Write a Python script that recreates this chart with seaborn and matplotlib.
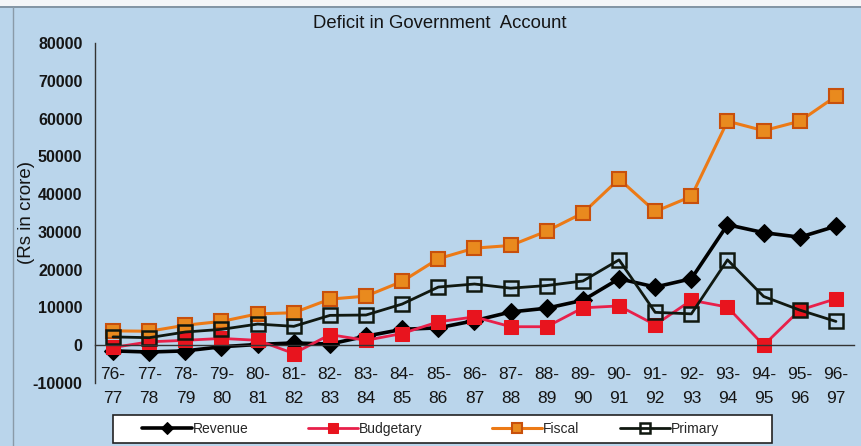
import matplotlib
matplotlib.use("Agg")
import matplotlib.pyplot as plt
import seaborn as sns
import numpy as np
import pandas as pd
from matplotlib.ticker import FixedLocator
from matplotlib.patches import Rectangle
from matplotlib.lines import Line2D

years = ["76-\n77", "77-\n78", "78-\n79", "79-\n80", "80-\n81", "81-\n82", "82-\n83",
         "83-\n84", "84-\n85", "85-\n86", "86-\n87", "87-\n88", "88-\n89", "89-\n90",
         "90-\n91", "91-\n92", "92-\n93", "93-\n94", "94-\n95", "95-\n96", "96-\n97"]

revenue = [-1500, -1800, -1500, -400, 200, 600, 300, 2400, 4200, 4600, 6500,
           8800, 9800, 11900, 17600, 15400, 17600, 31900, 29800, 28600, 31500]
budgetary = [-600, 900, 1300, 1800, 1300, -2200, 2800, 1300, 3100, 6200, 7500,
             4900, 4900, 9900, 10400, 5400, 11900, 10100, 0, 9300, 12300]
fiscal = [3800, 3700, 5300, 6300, 8300, 8600, 12200, 13000, 16900, 22900, 25700,
          26400, 30200, 35000, 44000, 35400, 39400, 59300, 56800, 59300, 65900]
primary = [2200, 2000, 3500, 4200, 5600, 5000, 7900, 8000, 10900, 15400, 16200,
           15100, 15800, 17000, 22600, 8700, 8300, 22600, 12900, 9300, 6300]

series_names = ["Revenue", "Budgetary", "Fiscal", "Primary"]
series_values = [revenue, budgetary, fiscal, primary]

sns.set_style("white")
plt.rcParams['font.family'] = ['Liberation Sans', 'DejaVu Sans']

bg = '#bad5eb'
W, H = 862, 446
fig = plt.figure(figsize=(W/100, H/100), dpi=100, facecolor=bg)
ax = fig.add_axes([95/W, 1-383/H, (854-95)/W, (383-43)/H])
ax.set_facecolor(bg)

idx = np.arange(len(years))
styles = {
    "Revenue": dict(color='black', marker='D', markersize=9, markerfacecolor='black',
                    markeredgecolor='black', linewidth=2.6),
    "Budgetary": dict(color='#e8204a', marker='s', markersize=10, markerfacecolor='#e8141e',
                      markeredgecolor='#e8141e', linewidth=2.0),
    "Fiscal": dict(color='#ec7a16', marker='s', markersize=10, markerfacecolor='#e98a1e',
                   markeredgecolor='#c8500c', markeredgewidth=1.5, linewidth=2.2),
    "Primary": dict(color='#101810', marker='s', markersize=10, markerfacecolor='none',
                    markeredgecolor='#101810', markeredgewidth=1.8, linewidth=2.0),
}

for name, vals in zip(series_names, series_values):
    df = pd.DataFrame({"x": idx, "y": vals})
    sns.lineplot(data=df, x="x", y="y", ax=ax, sort=False, label=name, **styles[name])

ax.set_xlim(-0.5, len(years) - 0.5)
ax.set_ylim(-10000, 80000)
ax.set_yticks(np.arange(-10000, 80001, 10000))
ax.set_yticklabels([str(v) for v in range(-10000, 80001, 10000)])
ax.set_xticks(idx)
ax.set_xticklabels([""] * len(years))
ax.xaxis.set_minor_locator(FixedLocator(np.arange(-0.5, len(years), 1)))
ax.tick_params(axis='x', which='major', length=0)
ax.tick_params(axis='x', which='minor', length=5, width=1, color='#333333', direction='out')
ax.tick_params(axis='y', which='major', length=5, width=1, color='#333333', direction='out',
               pad=4, labelsize=11.5, labelcolor='#151515')

# category labels (two-line), placed at each category index
xt = ax.get_xaxis_transform()
for i, lab in zip(idx, years):
    ax.text(i, 0.047, lab, transform=xt, ha='center', va='top', fontsize=12.5,
            linespacing=1.72, color='#151515')

ax.spines['bottom'].set_position(('data', 0))
for s in ['top', 'right']:
    ax.spines[s].set_visible(False)
for s in ['left', 'bottom']:
    ax.spines[s].set_color('#333333')
    ax.spines[s].set_linewidth(1.0)

ax.set_xlabel("")
ax.set_ylabel("")
fig.text(27/W, 1-212/H, "(Rs in crore)", rotation=90, ha='center', va='center',
         fontsize=13.5, color='#151515')
fig.text(440/W, 1-23/H, "Deficit in Government  Account", ha='center', va='center',
         fontsize=13.3, color='#151515')

# scan border details
fig.patches.append(Rectangle((0, 1-6/H), 1, 6/H, transform=fig.transFigure,
                             facecolor='#f4f6f8', edgecolor='none', zorder=0))
fig.lines.append(Line2D([0, 1], [1-7/H, 1-7/H], transform=fig.transFigure,
                        color='#7a8a98', linewidth=1.2))
fig.lines.append(Line2D([13/W, 13/W], [0, 1-7/H], transform=fig.transFigure,
                        color='#8a9aa8', linewidth=1.0))

# legend
ax.get_legend().remove()
handles, labels = ax.get_legend_handles_labels()
fig.patches.append(Rectangle((113/W, 1-443/H), (772-113)/W, (443-415)/H,
                             transform=fig.transFigure, facecolor='white',
                             edgecolor='#222222', linewidth=1.2, zorder=2))
starts = [142, 308, 492, 620]
for h, l, x0 in zip(handles, labels, starts):
    lg = fig.legend([h], [l], loc='center left', bbox_to_anchor=(x0/W, 1-429/H),
                    fontsize=10, frameon=False, handlelength=3.6, handletextpad=0.05,
                    borderpad=0, borderaxespad=0, markerscale=0.65)
    lg.set_zorder(3)

fig.canvas.draw()
for lbl in ax.get_yticklabels():
    lbl.set_fontweight('bold')

fig.savefig("out.png", dpi=100, facecolor=bg)
